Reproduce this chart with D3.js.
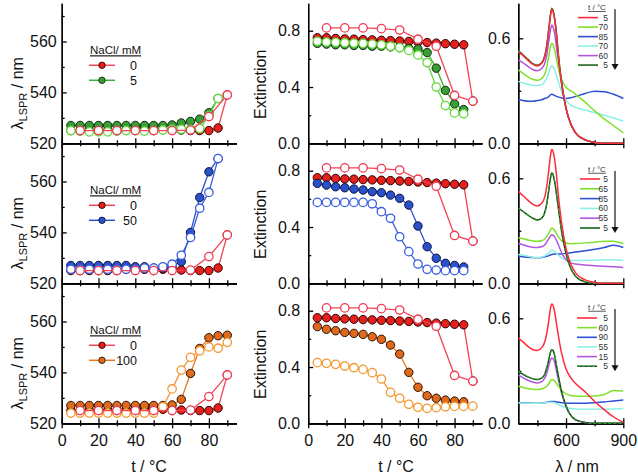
<!DOCTYPE html>
<html>
<head>
<meta charset="UTF-8">
<style>
  body { margin: 0; background: #fff; }
  svg { display: block; font-family: Arial, "Liberation Sans", sans-serif; }
  .axis path, .axis line { stroke: #000; stroke-width: 1.3; }
  .axis text { font-size: 16px; font-family: Arial, "Liberation Sans", sans-serif; fill: #111; }
  .title { font-size: 16px; fill: #111; }
</style>
</head>
<body>
<svg id="chart" width="638" height="476"></svg>
<script src="https://cdn.jsdelivr.net/npm/d3@7"></script>
<script>
// temperatures (°C)
const tHeat = [5,10,15,20,25,30,35,40,45,50,55,60,65,70,75,80,85];
const tHeat90 = [5,10,15,20,25,30,35,40,45,50,55,60,65,70,75,80,85,90];
const tCoolRed = [10,20,30,40,50,60,70,80,90];

// LSPR wavelength (nm), left column
const lsprRedFilled = [525,525,525,525,525,525,525.5,525.5,525.5,525.5,525.5,525.5,525.2,525,525,525,526,539];
const lsprRedOpen = [525,525,525,525,525,525,525.2,530.5,539];
const lspr5Filled = [527,527,527,527,527,527,527,527,527,527,527,527.2,528,528.6,529.5,532,537.6];
const lspr5Open = [525,524.8,524.5,524.5,524.5,524.8,525,525,524.8,525,525.2,525.5,525.5,525.5,525.8,530.8,537.6];
const lspr50Filled = [527,527,527,527,527,527,527,526.5,526.5,526,526,526.8,528.5,540,553.7,563.8,569];
const lspr50Open = [525.5,525.5,525.5,525.5,525.5,525.5,525.5,525.5,526,526,526.5,527.5,531,538,549.5,555.7,569];
const lspr100Filled = [527,527,527,527,527,527,527,527,527,527,527,527.2,529.4,539.6,549.4,553.6,554.4,554.6];
const lspr100Open = [524,524,524,524,524,524,524,524,524,524,526.5,533.5,540.9,545.9,548.5,550,549.5,551.8];

// extinction, middle column
const extRedFilled = [0.75,0.75,0.745,0.742,0.74,0.737,0.735,0.732,0.73,0.727,0.724,0.72,0.716,0.712,0.708,0.704,0.70,0.30];
const extRedOpen = [0.82,0.82,0.82,0.815,0.805,0.74,0.69,0.34,0.30];
const ext5Filled = [0.71,0.705,0.70,0.70,0.695,0.695,0.69,0.69,0.685,0.68,0.675,0.67,0.645,0.534,0.376,0.28,0.24];
const ext5Open = [0.725,0.72,0.718,0.715,0.712,0.71,0.705,0.70,0.69,0.68,0.66,0.628,0.574,0.40,0.268,0.216,0.21];
const ext50Filled = [0.71,0.698,0.686,0.679,0.67,0.663,0.651,0.644,0.627,0.604,0.556,0.407,0.26,0.178,0.142,0.127,0.116];
const ext50Open = [0.575,0.575,0.575,0.575,0.575,0.575,0.565,0.509,0.462,0.331,0.225,0.137,0.099,0.094,0.09,0.09,0.09];
const ext100Filled = [0.687,0.668,0.658,0.646,0.639,0.632,0.615,0.597,0.556,0.492,0.362,0.256,0.196,0.178,0.165,0.158,0.153];
const ext100Open = [0.431,0.426,0.419,0.407,0.395,0.383,0.36,0.315,0.22,0.178,0.135,0.114,0.106,0.111,0.118,0.12,0.12,0.122];

// spectra, right column (extinction vs wavelength)
const lambdas = [350,375,400,425,450,475,490,500,510,520,525,530,540,550,560,575,600,625,650,700,750,800,850,900];
const spec5Labels = ["5","70","85","70","60","5"];
const spec5_t5a  = [0.524,0.50,0.475,0.452,0.442,0.46,0.50,0.56,0.65,0.74,0.765,0.76,0.71,0.62,0.50,0.36,0.20,0.11,0.06,0.02,0.005,0,0,0];
const spec5_t70  = [0.42,0.40,0.38,0.366,0.36,0.372,0.40,0.44,0.50,0.56,0.572,0.568,0.535,0.48,0.43,0.37,0.32,0.30,0.28,0.235,0.185,0.14,0.10,0.06];
const spec5_t85  = [0.25,0.245,0.24,0.24,0.244,0.25,0.257,0.26,0.268,0.278,0.28,0.279,0.274,0.268,0.264,0.26,0.256,0.26,0.268,0.285,0.298,0.295,0.28,0.256];
const spec5_t70c = [0.354,0.345,0.337,0.332,0.33,0.337,0.355,0.375,0.405,0.435,0.443,0.44,0.42,0.385,0.35,0.30,0.245,0.218,0.205,0.19,0.175,0.16,0.145,0.127];
const spec5_t60  = [0.477,0.46,0.44,0.422,0.415,0.43,0.46,0.51,0.585,0.655,0.676,0.67,0.63,0.55,0.47,0.35,0.20,0.11,0.06,0.02,0.005,0,0,0];
const spec5_t5b  = [0.53,0.505,0.48,0.456,0.446,0.464,0.505,0.565,0.655,0.745,0.771,0.765,0.715,0.625,0.505,0.362,0.2,0.11,0.06,0.02,0.005,0,0,0];

const spec50Labels = ["5","65","85","60","55","5"];
const spec50_t5a = [0.525,0.50,0.475,0.452,0.442,0.46,0.50,0.56,0.65,0.74,0.765,0.76,0.71,0.62,0.50,0.36,0.20,0.11,0.06,0.02,0.005,0,0,0];
const spec50_t65 = [0.26,0.255,0.248,0.243,0.24,0.245,0.255,0.268,0.285,0.308,0.316,0.314,0.303,0.285,0.265,0.245,0.23,0.226,0.227,0.231,0.235,0.24,0.24,0.225];
const spec50_t85 = [0.155,0.152,0.149,0.147,0.146,0.148,0.152,0.154,0.158,0.163,0.165,0.166,0.167,0.167,0.167,0.168,0.171,0.175,0.179,0.186,0.195,0.205,0.218,0.205];
const spec50_t60 = [0.165,0.16,0.155,0.149,0.146,0.15,0.157,0.165,0.175,0.186,0.19,0.189,0.183,0.172,0.16,0.147,0.136,0.131,0.13,0.131,0.132,0.134,0.135,0.13];
const spec50_t55 = [0.227,0.22,0.212,0.206,0.205,0.21,0.222,0.237,0.255,0.272,0.278,0.276,0.265,0.245,0.22,0.18,0.135,0.117,0.11,0.105,0.1,0.097,0.095,0.09];
const spec50_t5b = [0.43,0.41,0.39,0.372,0.362,0.375,0.41,0.46,0.535,0.61,0.63,0.625,0.585,0.51,0.43,0.31,0.17,0.085,0.04,0.008,0,0,0,0];

const spec100Labels = ["5","60","90","55","15","5"];
const spec100_t5a = [0.487,0.465,0.44,0.422,0.416,0.435,0.47,0.52,0.59,0.665,0.682,0.678,0.64,0.57,0.50,0.41,0.31,0.26,0.228,0.18,0.125,0.078,0.036,0.005];
const spec100_t60 = [0.212,0.205,0.199,0.195,0.193,0.197,0.205,0.213,0.226,0.243,0.25,0.249,0.242,0.228,0.212,0.19,0.168,0.159,0.156,0.155,0.156,0.165,0.188,0.184];
const spec100_t90 = [0.117,0.117,0.116,0.115,0.115,0.117,0.119,0.12,0.122,0.124,0.125,0.125,0.124,0.122,0.12,0.118,0.115,0.114,0.114,0.115,0.118,0.122,0.128,0.133];
const spec100_t55 = [0.117,0.116,0.115,0.114,0.114,0.116,0.117,0.118,0.119,0.121,0.121,0.12,0.117,0.112,0.106,0.099,0.09,0.085,0.082,0.08,0.08,0.08,0.082,0.085];
const spec100_t15 = [0.275,0.26,0.246,0.236,0.231,0.24,0.26,0.29,0.33,0.365,0.373,0.371,0.35,0.30,0.25,0.18,0.095,0.045,0.02,0.005,0,0,0,0];
const spec100_t5b = [0.297,0.28,0.265,0.255,0.25,0.26,0.285,0.32,0.365,0.41,0.42,0.418,0.39,0.33,0.27,0.19,0.10,0.045,0.02,0.005,0,0,0,0];

const naclLabels = ["5","50","100"];

// ---- layout ----
const svg = d3.select("#chart");
const rowTops = [3.3, 143.3, 283.3], rowH = 140;

const xT1 = d3.scaleLinear().domain([0, 95]).range([61.7, 236.5]);
const xT2 = d3.scaleLinear().domain([0, 95]).range([308.2, 482]);
const xLam = d3.scaleLinear().domain([350, 900]).range([518.3, 623.3]);

const styles = {
  redF:    {line: "#f04454", fill: "#e8201c", stroke: "#2a0000", filled: true},
  redO:    {line: "#f04454", stroke: "#f23a52", filled: false},
  greenF:  {line: "#3fae3a", fill: "#3a9e36", stroke: "#102a10", filled: true},
  greenO:  {line: "#62d83a", stroke: "#62d83a", filled: false},
  blueF:   {line: "#2e4fc7", fill: "#2b50cc", stroke: "#0a1440", filled: true},
  blueO:   {line: "#3a5ee0", stroke: "#3a5ee0", filled: false},
  orangeF: {line: "#e87a22", fill: "#e0691c", stroke: "#2a1204", filled: true},
  orangeO: {line: "#f5962e", stroke: "#f5962e", filled: false}
};
const specColors = ["#ff2a3a", "#7fe22a", "#2d4fd6", "#8cf0e6", "#b457e0", "#2f9a2f"];

const rows = [
  {lF: lspr5Filled, lO: lspr5Open, eF: ext5Filled, eO: ext5Open, tF: tHeat, tO: tHeat, tEF: tHeat, tEO: tHeat,
   sF: styles.greenF, sO: styles.greenO, spec: [spec5_t5a, spec5_t70, spec5_t85, spec5_t70c, spec5_t60, spec5_t5b], specLab: spec5Labels,
   leg: {hy: 4, y0: 14.3, dy: 9.5, x0: 578, x1: 598}},
  {lF: lspr50Filled, lO: lspr50Open, eF: ext50Filled, eO: ext50Open, tF: tHeat, tO: tHeat, tEF: tHeat, tEO: tHeat,
   sF: styles.blueF, sO: styles.blueO, spec: [spec50_t5a, spec50_t65, spec50_t85, spec50_t60, spec50_t55, spec50_t5b], specLab: spec50Labels,
   leg: {hy: 25.7, y0: 35.7, dy: 9.8, x0: 580, x1: 600}},
  {lF: lspr100Filled, lO: lspr100Open, eF: ext100Filled, eO: ext100Open, tF: tHeat90, tO: tHeat90, tEF: tHeat, tEO: tHeat90,
   sF: styles.orangeF, sO: styles.orangeO, spec: [spec100_t5a, spec100_t60, spec100_t90, spec100_t55, spec100_t15, spec100_t5b], specLab: spec100Labels,
   leg: {hy: 23.7, y0: 34.7, dy: 9.65, x0: 577, x1: 597}}
];

function addXAxis(scale, y, major, minor, labels) {
  const mk = (axisFn, vals, size, fmt) => {
    svg.append("g").attr("class", "axis")
      .attr("transform", `translate(0,${y})`)
      .call(axisFn(scale).tickValues(vals).tickSize(size).tickSizeOuter(0).tickPadding(6).tickFormat(fmt));
  };
  mk(d3.axisBottom, major, 5, labels ? d3.format("d") : () => "");
  mk(d3.axisTop, major, 5, () => "");
  mk(d3.axisBottom, minor, 3, () => "");
  mk(d3.axisTop, minor, 3, () => "");
}

function addYAxis(x, scale, major, minor, fmt, pad) {
  svg.append("g").attr("class", "axis").attr("transform", `translate(${x},0)`)
    .call(d3.axisLeft(scale).tickValues(major).tickSize(-5).tickSizeOuter(0).tickPadding(pad).tickFormat(fmt));
  svg.append("g").attr("class", "axis").attr("transform", `translate(${x},0)`)
    .call(d3.axisLeft(scale).tickValues(minor).tickSize(-3).tickSizeOuter(0).tickFormat(() => ""));
}

function drawSeries(xs, ys, xScale, yScale, st) {
  const pts = xs.map((t, i) => [t, ys[i]]);
  svg.append("path").datum(pts)
    .attr("fill", "none").attr("stroke", st.line).attr("stroke-width", 1.3)
    .attr("d", d3.line().x(d => xScale(d[0])).y(d => yScale(d[1])));
  svg.append("g").selectAll("circle").data(pts).join("circle")
    .attr("cx", d => xScale(d[0])).attr("cy", d => yScale(d[1]))
    .attr("r", 4.2)
    .attr("fill", st.filled ? st.fill : "#fff")
    .attr("stroke", st.stroke)
    .attr("stroke-width", st.filled ? 1 : 1.3);
}

rows.forEach((r, i) => {
  const top = rowTops[i], bot = top + rowH;
  const yL = d3.scaleLinear().domain([520, 575]).range([bot, top]);
  const yE = d3.scaleLinear().domain([0, 0.995]).range([bot, top]);
  const yS = d3.scaleLinear().domain([0, 0.8]).range([bot, top]);
  const last = i === 2;

  // ---- left: LSPR ----
  addYAxis(61.7, yL, [520, 540, 560], [530, 550, 570], d3.format("d"), 5);
  addXAxis(xT1, bot, [0, 20, 40, 60, 80], [10, 30, 50, 70, 90], last);
  drawSeries(tHeat90, lsprRedFilled, xT1, yL, styles.redF);
  drawSeries(r.tF, r.lF, xT1, yL, r.sF);
  drawSeries(r.tO, r.lO, xT1, yL, r.sO);
  drawSeries(tCoolRed, lsprRedOpen, xT1, yL, styles.redO);

  const lt = svg.append("text").attr("class", "title")
    .attr("transform", `translate(23,${top + 90}) rotate(-90)`)
    .attr("text-anchor", "middle");
  lt.append("tspan").text("λ");
  lt.append("tspan").attr("font-size", 11).attr("dy", 4).text("LSPR");
  lt.append("tspan").attr("dy", -4).text(" / nm");

  // legend
  const lg = svg.append("g").attr("transform", `translate(0,${top})`);
  lg.append("text").attr("x", 90).attr("y", 51).attr("font-size", 11.5)
    .attr("text-decoration", "underline").attr("fill", "#111").text("NaCl/ mM");
  [[styles.redF, "0"], [r.sF, naclLabels[i]]].forEach(([st, lab], k) => {
    const yy = 62 + k * 15;
    lg.append("line").attr("x1", 89).attr("x2", 115).attr("y1", yy).attr("y2", yy)
      .attr("stroke", st.line).attr("stroke-width", 1.5);
    lg.append("circle").attr("cx", 102).attr("cy", yy).attr("r", 3.2)
      .attr("fill", st.fill).attr("stroke", st.stroke).attr("stroke-width", 0.9);
    lg.append("text").attr("x", 137).attr("y", yy).attr("dy", "0.35em")
      .attr("text-anchor", "end").attr("font-size", 12.5).attr("fill", "#111").text(lab);
  });

  // ---- middle: extinction ----
  addYAxis(308.2, yE, [0, 0.4, 0.8], [0.2, 0.6], d3.format(".1f"), 8);
  addXAxis(xT2, bot, [0, 20, 40, 60, 80], [10, 30, 50, 70, 90], last);
  drawSeries(tHeat90, extRedFilled, xT2, yE, styles.redF);
  drawSeries(r.tEF, r.eF, xT2, yE, r.sF);
  drawSeries(r.tEO, r.eO, xT2, yE, r.sO);
  drawSeries(tCoolRed, extRedOpen, xT2, yE, styles.redO);

  svg.append("text").attr("class", "title")
    .attr("transform", `translate(266,${top + 81}) rotate(-90)`)
    .attr("text-anchor", "middle").text("Extinction");

  // ---- right: spectra ----
  addYAxis(518.3, yS, [0, 0.6], [0.3], d3.format(".1f"), 8);
  addXAxis(xLam, bot, [600, 900], [450, 750], last);
  const line = d3.line().x((d, j) => xLam(lambdas[j])).y(d => yS(d)).curve(d3.curveMonotoneX);
  [2, 3, 4, 1].forEach(k => {
    svg.append("path").datum(r.spec[k]).attr("fill", "none")
      .attr("stroke", specColors[k]).attr("stroke-width", 1.5).attr("d", line);
  });
  svg.append("path").datum(r.spec[5]).attr("fill", "none")
    .attr("stroke", "#0d3a0d").attr("stroke-width", 1.4).attr("d", line);
  svg.append("path").datum(r.spec[5]).attr("fill", "none")
    .attr("stroke", specColors[5]).attr("stroke-width", 1.4).attr("stroke-dasharray", "3,2").attr("d", line);
  svg.append("path").datum(r.spec[0]).attr("fill", "none")
    .attr("stroke", specColors[0]).attr("stroke-width", 1.5).attr("d", line);

  // spectra legend
  const L = r.leg;
  const sg = svg.append("g").attr("transform", `translate(0,${top})`);
  sg.append("text").attr("x", 588).attr("y", L.hy).attr("dy", "0.35em")
    .attr("font-size", 8).attr("text-decoration", "underline").attr("fill", "#333").text("t / °C");
  r.specLab.forEach((lab, k) => {
    const yy = L.y0 + k * L.dy;
    if (k === 5) {
      sg.append("line").attr("x1", L.x0).attr("x2", L.x1).attr("y1", yy).attr("y2", yy)
        .attr("stroke", "#0d3a0d").attr("stroke-width", 1.4);
      sg.append("line").attr("x1", L.x0).attr("x2", L.x1).attr("y1", yy).attr("y2", yy)
        .attr("stroke", specColors[5]).attr("stroke-width", 1.4).attr("stroke-dasharray", "3,2");
    } else {
      sg.append("line").attr("x1", L.x0).attr("x2", L.x1).attr("y1", yy).attr("y2", yy)
        .attr("stroke", specColors[k]).attr("stroke-width", 1.6);
    }
    sg.append("text").attr("x", 608).attr("y", yy).attr("dy", "0.35em")
      .attr("text-anchor", "end").attr("font-size", 8.5).attr("fill", "#333").text(lab);
  });
  const ay0 = L.hy + 2, ay1 = L.y0 + 5 * L.dy + 4;
  sg.append("line").attr("x1", 615).attr("x2", 615).attr("y1", ay0).attr("y2", ay1 - 4)
    .attr("stroke", "#111").attr("stroke-width", 1.2);
  sg.append("path").attr("d", `M611.5,${ay1 - 5}L618.5,${ay1 - 5}L615,${ay1 + 1}Z`).attr("fill", "#111");
});

// x titles
svg.append("text").attr("class", "title").attr("x", 149).attr("y", 472).attr("text-anchor", "middle").text("t / °C");
svg.append("text").attr("class", "title").attr("x", 396).attr("y", 472).attr("text-anchor", "middle").text("t / °C");
svg.append("text").attr("class", "title").attr("x", 577).attr("y", 472).attr("text-anchor", "middle").text("λ / nm");
</script>
</body>
</html>
